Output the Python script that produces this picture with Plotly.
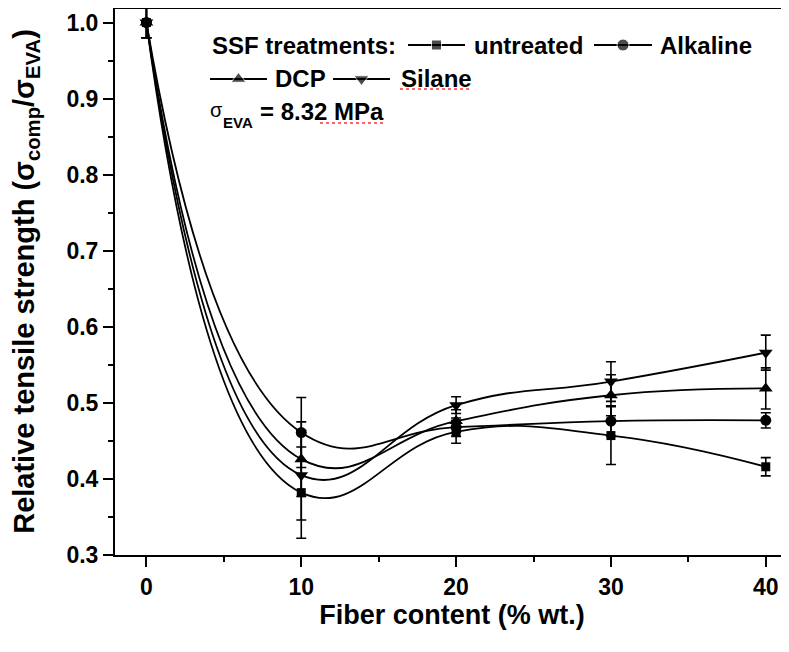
import plotly.graph_objects as go

# ---- data ----
fiber_content = [0, 10, 20, 30, 40]
untreated = [1.0, 0.382, 0.462, 0.457, 0.416]
untreated_err = [0.02, 0.06, 0.015, 0.038, 0.012]
alkaline = [1.0, 0.461, 0.468, 0.476, 0.477]
alkaline_err = [0.02, 0.046, 0.012, 0.02, 0.01]
dcp = [1.0, 0.426, 0.476, 0.510, 0.519]
dcp_err = [0.02, 0.049, 0.015, 0.027, 0.027]
silane = [1.0, 0.405, 0.497, 0.528, 0.566]
silane_err = [0.02, 0.059, 0.011, 0.026, 0.023]

series_names = ["untreated", "Alkaline", "DCP", "Silane"]
x_ticks = [0, 10, 20, 30, 40]
y_ticks = [0.3, 0.4, 0.5, 0.6, 0.7, 0.8, 0.9, 1.0]

FONT = "Liberation Sans, Arial, sans-serif"

# page offset of the plot div (browser body margin)
OFF = 8
W, H = 789 - OFF, 652 - OFF
ML, MR, MT, MB = 107, 0, 0, 97
PW, PH = W - ML - MR, H - MT - MB


def fx(px):  # page pixel -> paper x
    return (px - OFF - ML) / PW


def fy(py):  # page pixel -> paper y
    return (H - MB - (py - OFF)) / PH


series = [
    (series_names[0], untreated, untreated_err, "square", 9),
    (series_names[1], alkaline, alkaline_err, "circle", 11),
    (series_names[2], dcp, dcp_err, "triangle-up", 12),
    (series_names[3], silane, silane_err, "triangle-down", 12),
]

fig = go.Figure()
for name, vals, err, sym, size in series:
    fig.add_trace(go.Scatter(
        x=fiber_content, y=vals, name=name, mode="lines+markers",
        line=dict(color="black", width=1.8, shape="spline", smoothing=1.3),
        marker=dict(symbol=sym, size=size, color="black"),
        error_y=dict(type="data", array=err, visible=True, color="black",
                     thickness=1.6, width=5),
        showlegend=False,
    ))

# ---- hand-drawn legend (layout positions in page pixels) ----
legend_glyphs = [  # (series index, line start, line end, centre y)
    (0, 408, 465, 45),
    (1, 594, 652, 45),
    (2, 210, 267, 79),
    (3, 333, 390, 79),
]
legend_texts = [  # (text, left, centre y)
    ("SSF treatments:", 211, 45),
    (series_names[0], 473, 45),
    (series_names[1], 659, 45),
    (series_names[2], 274, 79),
    (series_names[3], 400, 79),
    ("= 8.32 MPa", 259, 111),
]
for idx, x0, x1, yc in legend_glyphs:
    _, _, _, sym, size = series[idx]
    fig.add_trace(go.Scatter(
        x=[fx(x0), fx((x0 + x1) / 2), fx(x1)], y=[fy(yc)] * 3,
        mode="lines+markers", xaxis="x2", yaxis="y2",
        line=dict(color="black", width=1.8),
        marker=dict(symbol=sym, size=[0, size + 1, 0], color="black"),
        showlegend=False, hoverinfo="skip",
    ))
for txt, x0, yc in legend_texts:
    fig.add_annotation(xref="paper", yref="paper", x=fx(x0), y=fy(yc),
                       xanchor="left", yanchor="middle", text=txt, showarrow=False,
                       font=dict(size=24, weight="bold"), borderpad=0)
# sigma_EVA label
fig.add_annotation(xref="paper", yref="paper", x=fx(209), y=fy(110), xanchor="left",
                   yanchor="middle", text="σ", showarrow=False, borderpad=0,
                   font=dict(size=20, weight="normal"))
fig.add_annotation(xref="paper", yref="paper", x=fx(222), y=fy(123), xanchor="left",
                   yanchor="middle", text="EVA", showarrow=False, borderpad=0,
                   font=dict(size=15, weight="bold"))
# red dotted spell-check underlines seen in the reference
for x0, x1, yy in [(400, 472, 89), (320, 386, 123)]:
    fig.add_shape(type="line", xref="paper", yref="paper", x0=fx(x0), x1=fx(x1),
                  y0=fy(yy), y1=fy(yy), line=dict(color="#ff3030", width=1.5, dash="dot"))

fig.update_layout(
    width=W, height=H,
    margin=dict(l=ML, r=MR, t=MT, b=MB),
    paper_bgcolor="white", plot_bgcolor="white",
    font=dict(family=FONT, color="black", size=23, weight="bold"),
    showlegend=False,
    xaxis2=dict(overlaying="x", range=[0, 1], visible=False, fixedrange=True),
    yaxis2=dict(overlaying="y", range=[0, 1], visible=False, fixedrange=True),
    xaxis=dict(
        range=[-2.03, 41.5], tickvals=x_ticks, ticks="outside", ticklen=10,
        tickwidth=2, tickcolor="black", automargin=False,
        showline=True, linewidth=2, linecolor="black", mirror=False,
        showgrid=False, zeroline=False, ticklabeloverflow="allow",
        tickfont=dict(size=23, weight="bold"),
        minor=dict(dtick=5, tick0=0, ticks="outside", ticklen=5, tickwidth=2,
                   tickcolor="black"),
        title=dict(text="Fiber content (% wt.)", standoff=0,
                   font=dict(size=27, weight="bold")),
    ),
    yaxis=dict(
        range=[0.3, 0.3 + PH / 760.7], tickvals=y_ticks, tickformat=".1f",
        ticks="outside", ticklen=10, tickwidth=2, tickcolor="black", automargin=False,
        showline=True, linewidth=2, linecolor="black",
        showgrid=False, zeroline=False, ticklabeloverflow="allow",
        tickfont=dict(size=23, weight="bold"),
        minor=dict(dtick=0.05, tick0=0.3, ticks="outside", ticklen=5, tickwidth=2,
                   tickcolor="black"),
        title=dict(text="Relative tensile strength (σ<sub>comp</sub>/σ<sub>EVA</sub>)",
                   standoff=26, font=dict(size=29, weight="bold")),
    ),
)

# top frame line
fig.add_shape(type="line", xref="paper", yref="paper", x0=0, x1=fx(782), y0=1, y1=1,
              line=dict(color="black", width=2))

fig.write_html("out.html")
